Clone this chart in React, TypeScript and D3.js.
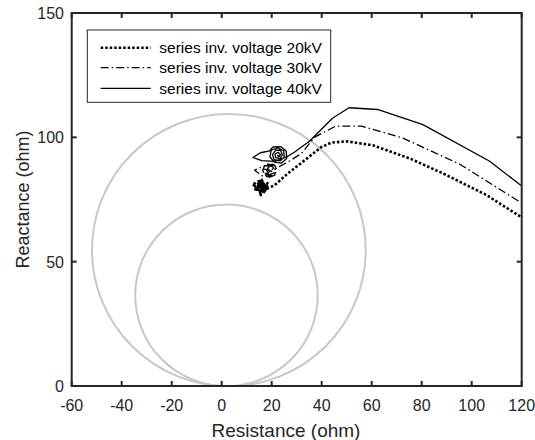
import React from "react";
import * as d3 from "d3";

const xTicks = [-60, -40, -20, 0, 20, 40, 60, 80, 100, 120];
const yTicks = [0, 50, 100, 150];
const relayReach = [73, 109.5];
const relayAngleDeg = 87;

const seriesNames = [
  "series inv. voltage 20kV",
  "series inv. voltage 30kV",
  "series inv. voltage 40kV",
];

const series20: [number, number][] = [
  [124, 65.3], [119.5, 68.1], [105.9, 76.8], [88.5, 85.5], [75.2, 91.5], [60.5, 96.8],
  [49.9, 98.4], [43.9, 97.9], [39.9, 96.1], [33.2, 90.8], [26.5, 85.5], [21.2, 80.8],
  [18.5, 79.5], [15.2, 82.3], [17.4, 78.6], [14.6, 77.8], [16.6, 83.2], [13.4, 80.2],
  [18.3, 81.6], [15.6, 76.8], [16.0, 82.9], [12.2, 81.0], [18.0, 79.3], [14.2, 78.9],
  [17.2, 82.0], [14.0, 81.2], [16.8, 79.0], [15.0, 80.6], [16.4, 81.1], [15.6, 79.6],
  [15.8, 80.5], [14.8, 82.8], [17.8, 77.8], [13.0, 79.2], [18.8, 80.6], [15.4, 78.2],
  [16.2, 80.2],
];

const series30: [number, number][] = [
  [124, 71.2], [119.5, 73.9], [95.2, 89.2], [72.5, 99.7], [55.9, 104.5], [45.6, 104.5],
  [37.2, 100.1], [31.9, 93.5], [26.5, 90.1], [23, 88.2], [17.2, 88.6], [13.2, 86.8],
  [16, 84.6], [19.2, 84.0], [21.2, 84.8],
  [22.0, 86.8], [21.2, 88.8], [19.2, 89.6], [17.2, 88.8], [16.4, 86.8], [17.2, 84.8], [19.2, 84.0], [21.2, 84.8],
  [21.5, 86.8], [20.8, 88.4], [19.2, 89.1], [17.6, 88.4], [16.9, 86.8], [17.6, 85.2], [19.2, 84.5], [20.8, 85.2],
  [21.0, 86.8], [20.5, 88.1], [19.2, 88.6], [17.9, 88.1], [17.4, 86.8], [17.9, 85.5], [19.2, 85.0], [20.5, 85.5],
  [20.4, 86.8], [20.0, 87.6], [19.2, 88.0], [18.4, 87.6], [18.0, 86.8], [18.4, 86.0], [19.2, 85.6], [20.0, 86.0],
  [19.8, 86.8], [19.2, 87.4], [18.6, 86.8], [19.2, 86.2], [19.5, 86.8],
];

const series40: [number, number][] = [
  [124, 77.9], [119.5, 80.8], [107.2, 90.4], [80.5, 105.1], [62.3, 111.2], [50.9, 111.9],
  [44.3, 107.7], [35.2, 98.5], [29.2, 94.1], [25.9, 92.1], [21, 90.3], [16, 90.6],
  [12.5, 91.9], [15.5, 93.8], [19.2, 94.6], [20.6, 96.2], [23.5, 96.3], [25.8, 94.5],
  [26, 91.5], [23.8, 89.6], [21, 90], [19.3, 92.2], [19.8, 94.8], [22.3, 95.8],
  [24.8, 94.6], [25, 92], [23.3, 90.5], [21, 91], [20.3, 93], [21.5, 94.8], [23.5, 94.8],
  [24.3, 93], [23.3, 91.4], [21.6, 91.8], [21.3, 93.3], [22.6, 94], [23.5, 93],
  [22.8, 92.2], [22.2, 92.9],
];

const W = 535;
const H = 440;
const left = 71.7, right = 521.7, top = 13, bottom = 386;
const axisColor = "#262626";
const font = "'Liberation Sans', Arial, Helvetica, sans-serif";

const styles = [
  { dash: "2.5,2", width: 2.6 },
  { dash: "8,3,1.5,3", width: 1.3 },
  { dash: "", width: 1.3 },
];

export default function App() {
  const x = d3.scaleLinear().domain([-60, 120]).range([left, right]);
  const y = d3.scaleLinear().domain([0, 150]).range([bottom, top]);
  const line = d3.line<[number, number]>().x((d) => x(d[0])).y((d) => y(d[1]));
  const all = [series20, series30, series40];
  const tick = 5;

  return (
    <svg width={W} height={H} style={{ position: "absolute", left: 0, top: 0, background: "#fff" }}>
      <defs>
        <clipPath id="plotclip">
          <rect x={left} y={top} width={right - left} height={bottom - top} />
        </clipPath>
      </defs>
      <rect x={0} y={0} width={W} height={H} fill="#fff" />
      <g clipPath="url(#plotclip)">
        {relayReach.map((z, i) => {
          const a = (relayAngleDeg * Math.PI) / 180;
          const cx = (z / 2) * Math.cos(a);
          const cy = (z / 2) * Math.sin(a);
          const r = z / 2;
          return (
            <ellipse
              key={i}
              cx={x(cx)}
              cy={y(cy)}
              rx={x(r) - x(0)}
              ry={y(0) - y(r)}
              fill="none"
              stroke="#c8c8c8"
              strokeWidth={2}
            />
          );
        })}
        {all.map((s, i) => (
          <path
            key={i}
            d={line(s) || ""}
            fill="none"
            stroke="#000"
            strokeWidth={styles[i].width}
            strokeDasharray={styles[i].dash || undefined}
            strokeLinejoin="round"
          />
        ))}
      </g>
      <rect x={left} y={top} width={right - left} height={bottom - top} fill="none" stroke={axisColor} strokeWidth={2} />
      {xTicks.map((t) => (
        <g key={"x" + t}>
          <line x1={x(t)} x2={x(t)} y1={bottom} y2={bottom - tick} stroke={axisColor} strokeWidth={2} />
          <line x1={x(t)} x2={x(t)} y1={top} y2={top + tick} stroke={axisColor} strokeWidth={2} />
          <text x={x(t)} y={405.5} textAnchor="middle" dominantBaseline="central" fontFamily={font} fontSize={16} fill={axisColor}>
            {t}
          </text>
        </g>
      ))}
      {yTicks.map((t) => (
        <g key={"y" + t}>
          <line x1={left} x2={left + tick} y1={y(t)} y2={y(t)} stroke={axisColor} strokeWidth={2} />
          <line x1={right} x2={right - tick} y1={y(t)} y2={y(t)} stroke={axisColor} strokeWidth={2} />
          <text x={64} y={y(t) + 0.5} textAnchor="end" dominantBaseline="central" fontFamily={font} fontSize={16} fill={axisColor}>
            {t}
          </text>
        </g>
      ))}
      <text x={286} y={430} textAnchor="middle" dominantBaseline="central" fontFamily={font} fontSize={19} fill={axisColor}>
        Resistance (ohm)
      </text>
      <text
        transform={`translate(23.3,${(top + bottom) / 2}) rotate(-90)`}
        textAnchor="middle"
        dominantBaseline="central"
        fontFamily={font}
        fontSize={18}
        fill={axisColor}
      >
        Reactance (ohm)
      </text>
      <rect x={87.3} y={30} width={243.4} height={72.3} fill="#fff" stroke={axisColor} strokeWidth={1} />
      {seriesNames.map((n, i) => {
        const ry = [47.7, 67.7, 88.3][i];
        return (
          <g key={n}>
            <line
              x1={100.7}
              x2={150.7}
              y1={ry}
              y2={ry}
              stroke="#000"
              strokeWidth={styles[i].width}
              strokeDasharray={styles[i].dash || undefined}
            />
            <text x={159.3} y={ry} dominantBaseline="central" fontFamily={font} fontSize={15.5} fill="#000">
              {n}
            </text>
          </g>
        );
      })}
    </svg>
  );
}
